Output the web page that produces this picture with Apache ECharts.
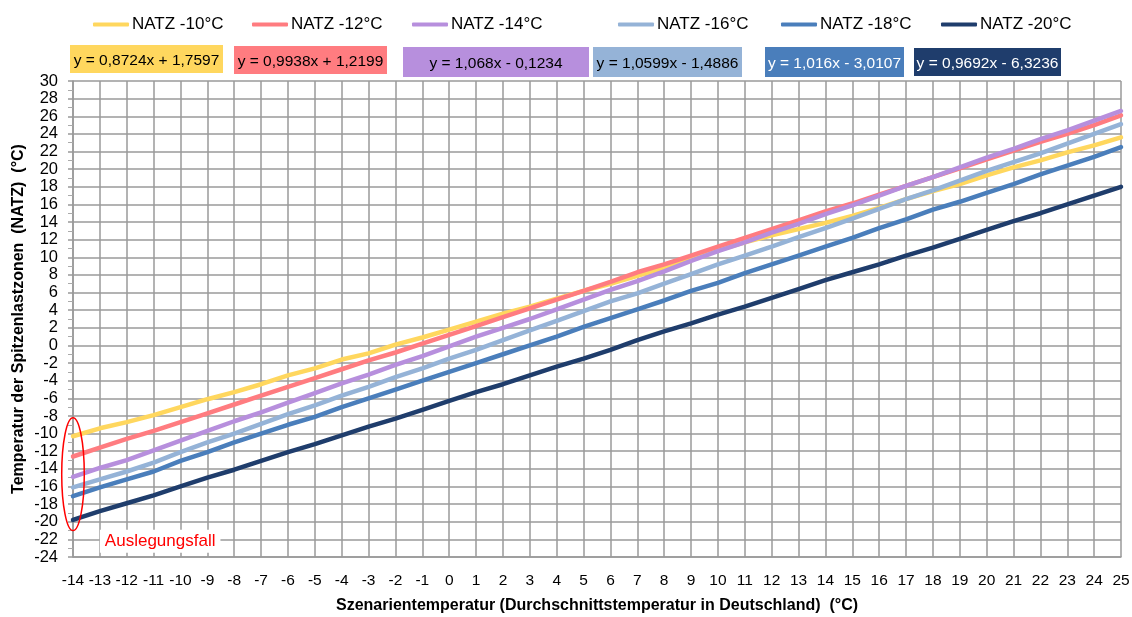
<!DOCTYPE html>
<html>
<head>
<meta charset="utf-8">
<script src="https://cdn.jsdelivr.net/npm/echarts@6/dist/echarts.min.js"></script>
<style>
html,body{margin:0;padding:0;background:#fff;}
#c{width:1132px;height:617px;}
</style>
</head>
<body>
<div id="c"></div>
<script>
const xValues = [-14,-13,-12,-11,-10,-9,-8,-7,-6,-5,-4,-3,-2,-1,0,1,2,3,4,5,6,7,8,9,10,11,12,13,14,15,16,17,18,19,20,21,22,23,24,25];
const seriesNames = ['NATZ -10°C','NATZ -12°C','NATZ -14°C','NATZ -16°C','NATZ -18°C','NATZ -20°C'];
const natz10 = [-10.3,-9.4,-8.7,-7.9,-7.0,-6.1,-5.3,-4.4,-3.4,-2.6,-1.6,-0.9,0.1,0.9,1.8,2.7,3.6,4.4,5.3,6.2,7.0,7.9,8.8,9.8,10.8,11.7,12.5,13.2,13.9,14.7,15.6,16.6,17.5,18.3,19.3,20.2,21.0,21.9,22.7,23.6];
const natz12 = [-12.6,-11.6,-10.6,-9.7,-8.7,-7.7,-6.7,-5.7,-4.7,-3.7,-2.7,-1.7,-0.8,0.2,1.2,2.2,3.2,4.2,5.2,6.2,7.2,8.3,9.2,10.2,11.2,12.2,13.2,14.2,15.2,16.1,17.1,18.1,19.1,20.1,21.1,22.1,23.1,24.0,25.0,26.1];
const natz14 = [-14.9,-13.9,-13.0,-11.9,-10.8,-9.7,-8.6,-7.6,-6.5,-5.4,-4.3,-3.3,-2.2,-1.2,-0.1,1.0,2.0,3.0,4.1,5.2,6.3,7.3,8.4,9.6,10.7,11.7,12.8,13.8,14.9,15.9,17.0,18.1,19.1,20.2,21.3,22.3,23.4,24.4,25.5,26.6];
const natz16 = [-16.1,-15.2,-14.3,-13.3,-12.1,-11.0,-10.0,-8.9,-7.8,-6.8,-5.7,-4.7,-3.6,-2.6,-1.5,-0.5,0.6,1.7,2.8,3.9,5.0,5.9,7.0,8.1,9.2,10.2,11.2,12.3,13.3,14.4,15.5,16.6,17.6,18.7,19.8,20.8,21.8,22.9,24.0,25.1];
const natz18 = [-17.1,-16.1,-15.2,-14.3,-13.1,-12.1,-11.0,-10.0,-9.0,-8.1,-7.0,-6.0,-5.0,-4.0,-3.0,-2.0,-1.0,0.0,1.0,2.1,3.1,4.1,5.1,6.2,7.1,8.2,9.2,10.2,11.2,12.2,13.3,14.3,15.4,16.3,17.3,18.3,19.4,20.4,21.4,22.5];
const natz20 = [-19.8,-18.8,-17.9,-17.0,-16.0,-15.0,-14.1,-13.1,-12.1,-11.2,-10.2,-9.2,-8.3,-7.3,-6.3,-5.3,-4.4,-3.4,-2.4,-1.5,-0.5,0.6,1.6,2.5,3.5,4.4,5.4,6.4,7.4,8.3,9.2,10.2,11.1,12.1,13.1,14.1,15.0,16.0,17.0,18.0];
const equations = ['y = 0,8724x + 1,7597','y = 0,9938x + 1,2199','y = 1,068x - 0,1234','y = 1,0599x - 1,4886','y = 1,016x - 3,0107','y = 0,9692x - 6,3236'];
const yMin = -24, yMax = 30, yStep = 2;
const xMin = -14, xMax = 25, xStep = 1;
const annotationText = 'Auslegungsfall';
const xTitle = 'Szenarientemperatur (Durchschnittstemperatur in Deutschland)  (°C)';
const yTitle = 'Temperatur der Spitzenlastzonen  (NATZ)  (°C)';

const colors = ['#FFD75E','#FF7C80','#B78FDD','#95B3D7','#4A7EBB','#1F3D6C'];
const eqText = ['#000','#000','#000','#000','#fff','#fff'];
const values = [natz10,natz12,natz14,natz16,natz18,natz20];
const FONT = 'Liberation Sans';

const chart = echarts.init(document.getElementById('c'));
const legendLeft = [93,252,412,618,781,941];
const eqBoxes = [[70,45,153,28],[234,46,153,28],[403,47,186,30],[593,47,149,30],[765,47,139,30],[914,48,147,28]];

const series = values.map((v,i)=>({
  name: seriesNames[i],
  type: 'line',
  data: xValues.map((x,j)=>[x,v[j]]),
  showSymbol: false,
  symbol: 'none',
  lineStyle: {color: colors[i], width: 4.5, cap: 'round', join: 'round'},
  itemStyle: {color: colors[i]},
  z: 3 + i,
  animation: false
}));

const graphics = [];
eqBoxes.forEach((b,i)=>{
  graphics.push({type:'rect', shape:{x:b[0],y:b[1],width:b[2],height:b[3]}, style:{fill:colors[i]}, z:10});
  graphics.push({type:'text', x:b[0]+b[2]/2, y:b[1]+b[3]/2+2, style:{text:equations[i], fill:eqText[i], font:'15.5px "'+FONT+'"', textAlign:'center', textVerticalAlign:'middle'}, z:11});
});

chart.setOption({
  animation: false,
  backgroundColor: '#fff',
  textStyle: {fontFamily: FONT},
  legend: seriesNames.map((n,i)=>({
    data: [n], left: legendLeft[i], top: 16, padding: 0, icon: 'roundRect', itemWidth: 36, itemHeight: 4,
    textStyle: {fontSize: 17, color: '#000', fontFamily: FONT, padding: [0,0,0,-2]}, selectedMode: false
  })),
  grid: {left: 73, right: 11, top: 81, bottom: 60, containLabel: false, outerBoundsMode: 'none'},
  xAxis: {
    type: 'value', min: xMin, max: xMax, interval: xStep,
    name: xTitle, nameLocation: 'middle', nameGap: 41, nameMoveOverlap: false,
    nameTextStyle: {fontSize: 16, fontWeight: 'bold', color: '#000', fontFamily: FONT},
    axisLine: {show: true, onZero: false, lineStyle: {color: '#999', width: 1.5}},
    axisTick: {show: false},
    axisLabel: {fontSize: 15.5, color: '#000', margin: 16, fontFamily: FONT, showMinLabel: true, showMaxLabel: true},
    splitLine: {show: true, lineStyle: {color: '#9a9a9a', width: 1.5}}
  },
  yAxis: {
    type: 'value', min: yMin, max: yMax, interval: yStep,
    name: yTitle, nameLocation: 'middle', nameGap: 46, nameRotate: 90, nameMoveOverlap: false,
    nameTextStyle: {fontSize: 16, fontWeight: 'bold', color: '#000', fontFamily: FONT},
    axisLine: {show: true, onZero: false, lineStyle: {color: '#999', width: 1.5}},
    axisTick: {show: true, length: 5, lineStyle: {color: '#999', width: 1.5}},
    minorTick: {show: true, splitNumber: 2, length: 5, lineStyle: {color: '#aaa', width: 1}},
    axisLabel: {fontSize: 16.5, color: '#000', margin: 15, fontFamily: FONT},
    splitLine: {show: true, lineStyle: {color: '#9a9a9a', width: 1.5}}
  },
  series: series,
  graphic: graphics
});

// annotation: ellipse around design case and label, placed via data coordinates
const c = chart.convertToPixel({gridIndex:0}, [-14, -14.6]);
const e1 = chart.convertToPixel({gridIndex:0}, [-13.58, -8.2]);
const t = chart.convertToPixel({gridIndex:0}, [-13.0, -22.2]);
graphics.push({type:'ellipse', shape:{cx:c[0], cy:c[1], rx:Math.abs(e1[0]-c[0]), ry:Math.abs(e1[1]-c[1])}, style:{fill:'none', stroke:'#FF0000', lineWidth:1.5}, z:12});
graphics.push({type:'text', x:t[0], y:t[1], style:{text:annotationText, fill:'#FF0000', font:'17px "'+FONT+'"', textAlign:'left', textVerticalAlign:'middle', backgroundColor:'#fff', padding:[3,5,3,5]}, z:12});
chart.setOption({graphic: graphics});
</script>
</body>
</html>
